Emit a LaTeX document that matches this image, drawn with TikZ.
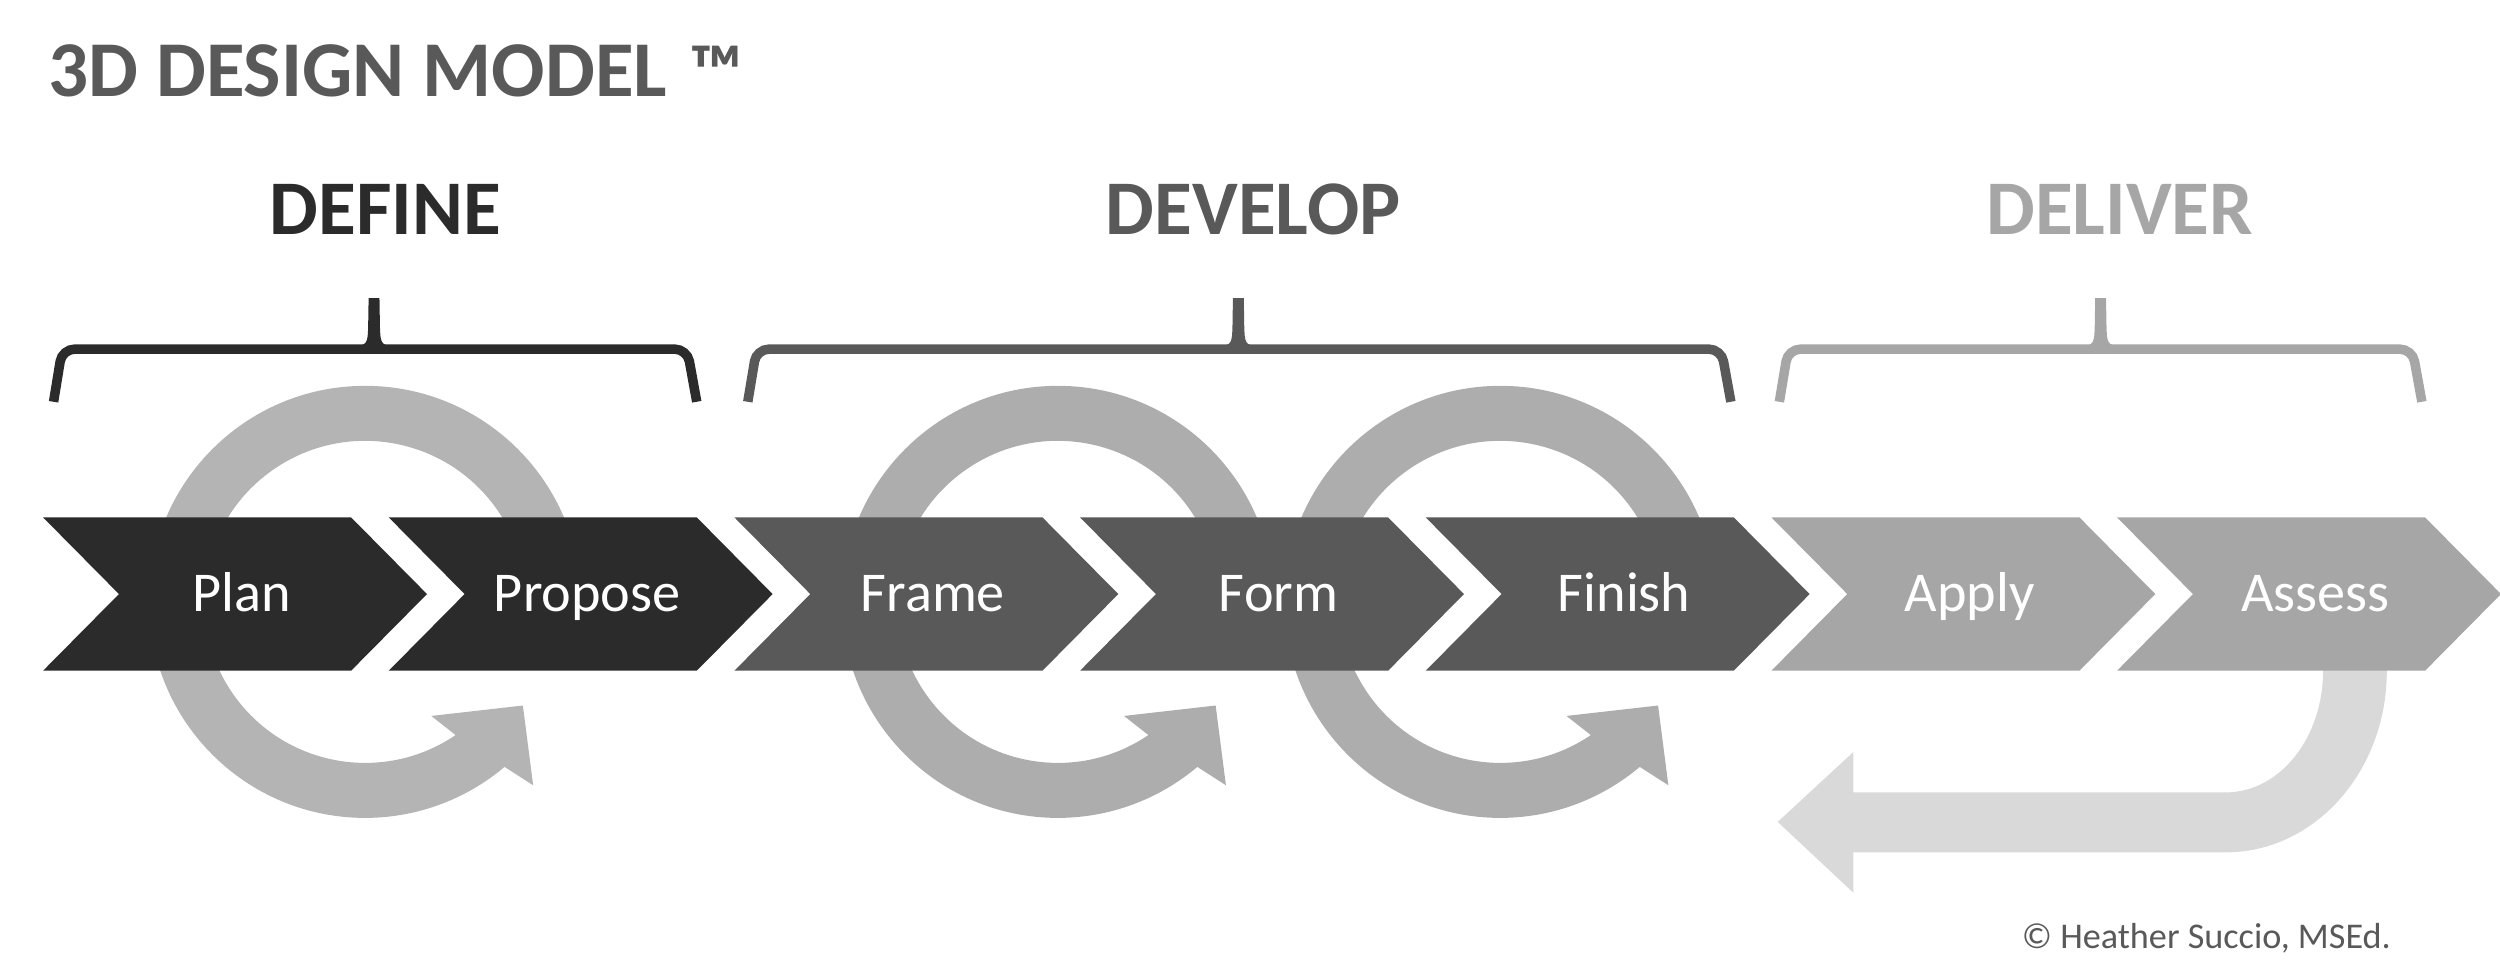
\documentclass[tikz,border=0pt]{standalone}
\usepackage{fontspec}
\setmainfont{Carlito}
\definecolor{defc}{HTML}{2B2B2B}
\definecolor{devc}{HTML}{595959}
\definecolor{delc}{HTML}{A6A6A6}
\definecolor{loopc}{HTML}{ADADAD}
\definecolor{loopa}{HTML}{B4B4B4}
\definecolor{backc}{HTML}{D9D9D9}
\begin{document}
\begin{tikzpicture}[x=0.015944cm, y=-0.015944cm,
  head/.style={font=\fontsize{22}{26}\selectfont\bfseries, anchor=base},
  lbl/.style={font=\fontsize{16}{19}\selectfont, text=white, anchor=base},
  brace/.style={line width=2.7pt, rounded corners=3.5pt}]
\useasboundingbox (0,0) rectangle (1568,614);
\node[head, anchor=base west, inner sep=0pt, text=devc, font=\fontsize{22.5}{26}\selectfont\bfseries] (title) at (30,60.5) {3D DESIGN MODEL\hspace{0.28em}{\fontsize{21}{26}\selectfont ™}};
\node[head, text=defc] (ph0) at (241.6,147.4) {DEFINE};
\node[head, text=devc] (ph1) at (786,147.4) {DEVELOP};
\node[head, text=delc] (ph2) at (1329.5,147.4) {DELIVER};
% brackets
\draw[brace, defc] (33.6,252) -- (39,219) -- (431,219) -- (437,252);
\fill[defc] (222.6,217) .. controls (230.6,217) and (230.6,214) .. (230.9,205) -- (231.2,187) -- (238,187) -- (238.3,205) .. controls (238.6,214) and (238.6,217) .. (246.6,217) -- cycle;
\draw[brace, devc] (469,252) -- (474.5,219) -- (1079.6,219) -- (1085.6,252);
\fill[devc] (764.7,217) .. controls (772.7,217) and (772.7,214) .. (773,205) -- (773.3,187) -- (780.1,187) -- (780.4,205) .. controls (780.7,214) and (780.7,217) .. (788.7,217) -- cycle;
\draw[brace, delc] (1116,252) -- (1121.5,219) -- (1513,219) -- (1519,252);
\fill[delc] (1305.5,217) .. controls (1313.5,217) and (1313.5,214) .. (1313.8,205) -- (1314.1,187) -- (1320.9,187) -- (1321.2,205) .. controls (1321.5,214) and (1321.5,217) .. (1329.5,217) -- cycle;
% loops
\fill[loopa, shift={(229,377.5)}] (0:135.5) arc[start angle=0, end angle=-310.2, radius=135.5] -- (47.5:156) -- (33.3:118.4) -- (59.9:82.7) -- (55.8:101) arc[start angle=-304.2, end angle=0, radius=101] -- cycle;
\fill[loopc, shift={(663.5,377.5)}] (0:135.5) arc[start angle=0, end angle=-310.2, radius=135.5] -- (47.5:156) -- (33.3:118.4) -- (59.9:82.7) -- (55.8:101) arc[start angle=-304.2, end angle=0, radius=101] -- cycle;
\fill[loopc, shift={(941,377.5)}] (0:135.5) arc[start angle=0, end angle=-310.2, radius=135.5] -- (47.5:156) -- (33.3:118.4) -- (59.9:82.7) -- (55.8:101) arc[start angle=-304.2, end angle=0, radius=101] -- cycle;
\fill[backc] (1497,415) -- (1457,415) -- (1457,421) arc[start angle=0, end angle=90, x radius=61, y radius=76] -- (1162.5,497) -- (1162.5,471.6) -- (1115,515.5) -- (1162.5,560) -- (1162.5,534.6) -- (1396,534.6) arc[start angle=90, end angle=0, x radius=101, y radius=113.6] -- cycle;
% steps
\fill[defc] (27,324.5) -- ++(193.2,0) -- ++(47.6,48.1) -- ++(-47.6,48.1) -- ++(-193.2,0) -- ++(47.6,-48.1) -- cycle;
\fill[defc] (243.8,324.5) -- ++(193.2,0) -- ++(47.6,48.1) -- ++(-47.6,48.1) -- ++(-193.2,0) -- ++(47.6,-48.1) -- cycle;
\fill[devc] (460.6,324.5) -- ++(193.2,0) -- ++(47.6,48.1) -- ++(-47.6,48.1) -- ++(-193.2,0) -- ++(47.6,-48.1) -- cycle;
\fill[devc] (677.4,324.5) -- ++(193.2,0) -- ++(47.6,48.1) -- ++(-47.6,48.1) -- ++(-193.2,0) -- ++(47.6,-48.1) -- cycle;
\fill[devc] (894.2,324.5) -- ++(193.2,0) -- ++(47.6,48.1) -- ++(-47.6,48.1) -- ++(-193.2,0) -- ++(47.6,-48.1) -- cycle;
\fill[delc] (1111,324.5) -- ++(193.2,0) -- ++(47.6,48.1) -- ++(-47.6,48.1) -- ++(-193.2,0) -- ++(47.6,-48.1) -- cycle;
\fill[delc] (1327.8,324.5) -- ++(193.2,0) -- ++(47.6,48.1) -- ++(-47.6,48.1) -- ++(-193.2,0) -- ++(47.6,-48.1) -- cycle;
\node[lbl] (s0) at (151.5,383.6) {Plan};
\node[lbl] (s1) at (368.3,383.6) {Propose};
\node[lbl] (s2) at (585.1,383.6) {Frame};
\node[lbl] (s3) at (801.9,383.6) {Form};
\node[lbl] (s4) at (1018.7,383.6) {Finish};
\node[lbl] (s5) at (1235.5,383.6) {Apply};
\node[lbl] (s6) at (1452.3,383.6) {Assess};
\node[anchor=base east, inner sep=0pt, text=devc, font=\fontsize{10.3}{12}\selectfont] (copy) at (1500,595) {© Heather Succio, MSEd.};
\end{tikzpicture}
\end{document}
